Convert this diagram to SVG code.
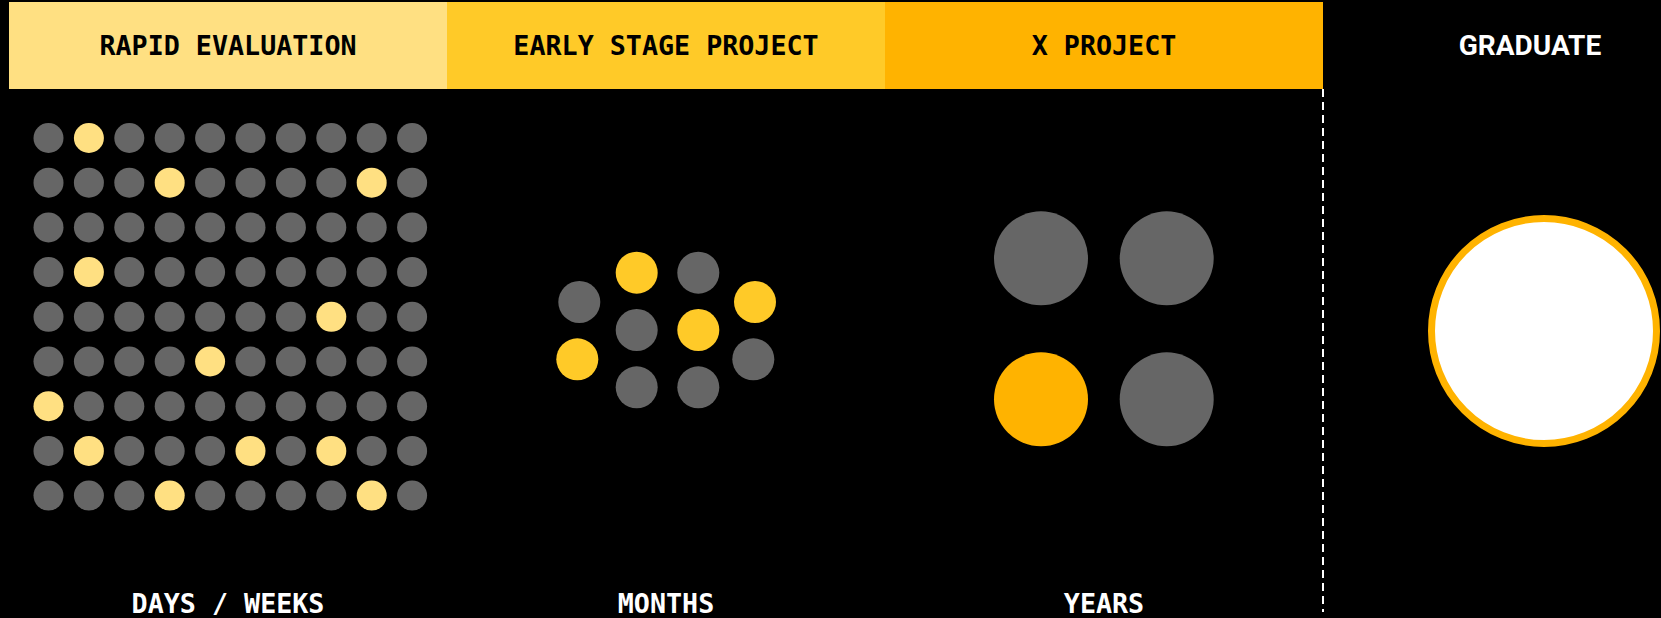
<svg xmlns="http://www.w3.org/2000/svg" width="1661" height="618" viewBox="0 0 1661 618">
<style>
.hdr{font-family:"DejaVu Sans Mono","Liberation Mono",monospace;font-weight:bold;font-size:26.7px;text-anchor:middle;fill:#000}
.lbl{font-family:"DejaVu Sans Mono","Liberation Mono",monospace;font-weight:bold;font-size:26.7px;text-anchor:middle;fill:#fff}
.grad{font-family:Roboto,"Liberation Sans",sans-serif;font-weight:bold;font-size:28px;text-anchor:middle;fill:#fff}
.g{fill:#666666}
.y1{fill:#FFE082}
.y2{fill:#FFCA28}
.y3{fill:#FFB300}
</style>
<defs>
<circle id="d" r="15"/>
</defs>
<rect x="0" y="0" width="1661" height="618" fill="#000"/>
<g id="banner">
<g id="rapid-evaluation">
<rect x="9" y="2" width="438" height="87" class="y1"/>
<text x="228" y="55" class="hdr">RAPID EVALUATION</text>
</g>
<g id="early-stage-project">
<rect x="447" y="2" width="438" height="87" class="y2"/>
<text x="666" y="55" class="hdr">EARLY STAGE PROJECT</text>
</g>
<g id="x-project">
<rect x="885" y="2" width="438" height="87" class="y3"/>
<text x="1104" y="55" class="hdr">X PROJECT</text>
</g>
<g id="graduate">
<text x="1530" y="55" class="grad">GRADUATE</text>
</g>
</g>
<g id="connectors">
<line x1="1323" y1="89" x2="1323" y2="612" stroke="#fff" stroke-width="2" stroke-dasharray="8 5"/>
</g>
<g id="days-weeks-grid">
<g class="g">
<use href="#d" x="48.5" y="138"/><use href="#d" x="129.3" y="138"/><use href="#d" x="169.7" y="138"/><use href="#d" x="210.1" y="138"/><use href="#d" x="250.5" y="138"/><use href="#d" x="290.9" y="138"/><use href="#d" x="331.3" y="138"/><use href="#d" x="371.7" y="138"/><use href="#d" x="412.1" y="138"/>
<use href="#d" x="48.5" y="182.7"/><use href="#d" x="88.9" y="182.7"/><use href="#d" x="129.3" y="182.7"/><use href="#d" x="210.1" y="182.7"/><use href="#d" x="250.5" y="182.7"/><use href="#d" x="290.9" y="182.7"/><use href="#d" x="331.3" y="182.7"/><use href="#d" x="412.1" y="182.7"/>
<use href="#d" x="48.5" y="227.4"/><use href="#d" x="88.9" y="227.4"/><use href="#d" x="129.3" y="227.4"/><use href="#d" x="169.7" y="227.4"/><use href="#d" x="210.1" y="227.4"/><use href="#d" x="250.5" y="227.4"/><use href="#d" x="290.9" y="227.4"/><use href="#d" x="331.3" y="227.4"/><use href="#d" x="371.7" y="227.4"/><use href="#d" x="412.1" y="227.4"/>
<use href="#d" x="48.5" y="272.1"/><use href="#d" x="129.3" y="272.1"/><use href="#d" x="169.7" y="272.1"/><use href="#d" x="210.1" y="272.1"/><use href="#d" x="250.5" y="272.1"/><use href="#d" x="290.9" y="272.1"/><use href="#d" x="331.3" y="272.1"/><use href="#d" x="371.7" y="272.1"/><use href="#d" x="412.1" y="272.1"/>
<use href="#d" x="48.5" y="316.8"/><use href="#d" x="88.9" y="316.8"/><use href="#d" x="129.3" y="316.8"/><use href="#d" x="169.7" y="316.8"/><use href="#d" x="210.1" y="316.8"/><use href="#d" x="250.5" y="316.8"/><use href="#d" x="290.9" y="316.8"/><use href="#d" x="371.7" y="316.8"/><use href="#d" x="412.1" y="316.8"/>
<use href="#d" x="48.5" y="361.5"/><use href="#d" x="88.9" y="361.5"/><use href="#d" x="129.3" y="361.5"/><use href="#d" x="169.7" y="361.5"/><use href="#d" x="250.5" y="361.5"/><use href="#d" x="290.9" y="361.5"/><use href="#d" x="331.3" y="361.5"/><use href="#d" x="371.7" y="361.5"/><use href="#d" x="412.1" y="361.5"/>
<use href="#d" x="88.9" y="406.2"/><use href="#d" x="129.3" y="406.2"/><use href="#d" x="169.7" y="406.2"/><use href="#d" x="210.1" y="406.2"/><use href="#d" x="250.5" y="406.2"/><use href="#d" x="290.9" y="406.2"/><use href="#d" x="331.3" y="406.2"/><use href="#d" x="371.7" y="406.2"/><use href="#d" x="412.1" y="406.2"/>
<use href="#d" x="48.5" y="450.9"/><use href="#d" x="129.3" y="450.9"/><use href="#d" x="169.7" y="450.9"/><use href="#d" x="210.1" y="450.9"/><use href="#d" x="290.9" y="450.9"/><use href="#d" x="371.7" y="450.9"/><use href="#d" x="412.1" y="450.9"/>
<use href="#d" x="48.5" y="495.6"/><use href="#d" x="88.9" y="495.6"/><use href="#d" x="129.3" y="495.6"/><use href="#d" x="210.1" y="495.6"/><use href="#d" x="250.5" y="495.6"/><use href="#d" x="290.9" y="495.6"/><use href="#d" x="331.3" y="495.6"/><use href="#d" x="412.1" y="495.6"/>
</g>
<g class="y1">
<use href="#d" x="88.9" y="138"/>
<use href="#d" x="169.7" y="182.7"/><use href="#d" x="371.7" y="182.7"/>
<use href="#d" x="88.9" y="272.1"/>
<use href="#d" x="331.3" y="316.8"/>
<use href="#d" x="210.1" y="361.5"/>
<use href="#d" x="48.5" y="406.2"/>
<use href="#d" x="88.9" y="450.9"/><use href="#d" x="250.5" y="450.9"/><use href="#d" x="331.3" y="450.9"/>
<use href="#d" x="169.7" y="495.6"/><use href="#d" x="371.7" y="495.6"/>
</g>
<text x="228" y="613" class="lbl">DAYS / WEEKS</text>
</g>
<g id="months-cluster">
<circle cx="579.3" cy="302" r="21" class="g"/>
<circle cx="636.7" cy="272.7" r="21" class="y2"/>
<circle cx="698.3" cy="272.7" r="21" class="g"/>
<circle cx="755" cy="302" r="21" class="y2"/>
<circle cx="636.7" cy="330" r="21" class="g"/>
<circle cx="698.3" cy="330" r="21" class="y2"/>
<circle cx="577.3" cy="359.3" r="21" class="y2"/>
<circle cx="753.3" cy="359.3" r="21" class="g"/>
<circle cx="636.7" cy="387.3" r="21" class="g"/>
<circle cx="698.3" cy="387.3" r="21" class="g"/>
<text x="666" y="613" class="lbl">MONTHS</text>
</g>
<g id="years-cluster">
<circle cx="1041" cy="258.3" r="47" class="g"/>
<circle cx="1166.7" cy="258.3" r="47" class="g"/>
<circle cx="1041" cy="399.3" r="47" class="y3"/>
<circle cx="1166.7" cy="399.3" r="47" class="g"/>
<text x="1104" y="613" class="lbl">YEARS</text>
</g>
<g id="graduate-circle">
<circle cx="1544" cy="331" r="112.5" fill="#fff" stroke="#FFB300" stroke-width="7"/>
</g>
</svg>
